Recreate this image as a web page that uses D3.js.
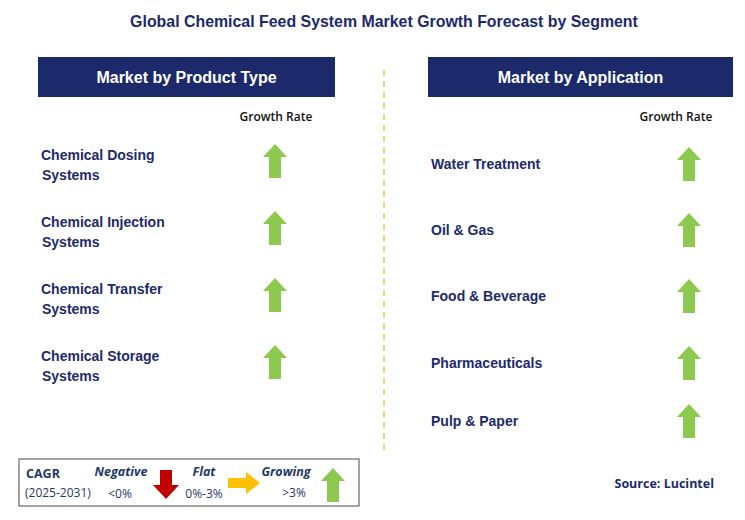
<!DOCTYPE html>
<html><head><meta charset="utf-8">
<script src="https://cdn.jsdelivr.net/npm/d3@7"></script>
<style>body{margin:0;background:#fff}</style></head>
<body><svg id="c" width="745" height="520"></svg>
<script>
const title = "Global Chemical Feed System Market Growth Forecast by Segment";
const productTypes = [["Chemical Dosing","Systems"],["Chemical Injection","Systems"],["Chemical Transfer","Systems"],["Chemical Storage","Systems"]];
const applications = ["Water Treatment","Oil & Gas","Food & Beverage","Pharmaceuticals","Pulp & Paper"];
const productTrend = ["up","up","up","up"];
const appTrend = ["up","up","up","up","up"];

const svg = d3.select("#c");
const navy = "#1c2a6b", green = "#8cc94e", font = "Arial, Liberation Sans, sans-serif";
svg.append("text").attr("x",384).attr("y",27).attr("text-anchor","middle").attr("font-family",font)
  .attr("font-size",15.9).attr("font-weight","bold").attr("fill","#1c2a6b").text(title);

function upArrow(g, cx, cy){
  const p = [[0,-17],[12,-4],[6,-4],[6,17],[-6,17],[-6,-4],[-12,-4]];
  g.append("polygon").attr("points",p.map(d=>[cx+d[0],cy+d[1]].join(",")).join(" ")).attr("fill",green);
}
function header(x,w,label){
  svg.append("rect").attr("x",x).attr("y",57).attr("width",w).attr("height",40).attr("fill",navy);
  svg.append("text").attr("x",x+w/2).attr("y",83).attr("text-anchor","middle").attr("fill","#fff")
    .attr("font-family",font).attr("font-size",16).attr("font-weight","bold").text(label);
}
header(38,297,"Market by Product Type");
header(428,305,"Market by Application");
[[276,"Growth Rate"],[676,"Growth Rate"]].forEach(([x,t])=>svg.append("text").attr("x",x).attr("y",121)
  .attr("text-anchor","middle").attr("font-family","Open Sans, sans-serif").attr("font-size",12).attr("font-weight","600").attr("fill","#111").text(t));
svg.append("line").attr("x1",384).attr("x2",384).attr("y1",70).attr("y2",450).attr("stroke","#f4c542")
  .attr("stroke-width",1.5).attr("stroke-dasharray","6,5");

const yL = d3.scalePoint().domain(d3.range(productTypes.length)).range([161,362]);
productTypes.forEach((lines,i)=>{
  const t = svg.append("text").attr("x",41).attr("font-family",font).attr("font-size",14).attr("font-weight","bold").attr("fill",navy);
  lines.forEach((l,j)=>t.append("tspan").attr("x",j?42:41).attr("y",yL(i)-1+j*20).text(l));
  if(productTrend[i]==="up") upArrow(svg,275,yL(i));
});
const yRpos = [164,230,296,363,421];
applications.forEach((a,i)=>{
  svg.append("text").attr("x",431).attr("y",yRpos[i]+5).attr("font-family",font).attr("font-size",14)
    .attr("font-weight","bold").attr("fill",navy).text(a);
  if(appTrend[i]==="up") upArrow(svg,689,yRpos[i]);
});

// legend
svg.append("rect").attr("x",19).attr("y",459).attr("width",340).attr("height",47).attr("fill","#fff").attr("stroke","#666").attr("stroke-width",1.2);
const lt=(x,y,t,o={})=>svg.append("text").attr("x",x).attr("y",y).attr("font-family","Open Sans, sans-serif")
  .attr("font-size",o.s||12).attr("font-weight",o.w||"normal").attr("font-style",o.i?"italic":"normal").attr("fill","#1f3864").attr("text-anchor",o.a||"start").text(t);
lt(26,478,"CAGR",{w:"bold",s:12.5});
lt(25,497,"(2025-2031)",{s:12});
lt(121,476,"Negative",{w:"bold",i:1,a:"middle",s:12.5});
lt(120,498,"<0%",{a:"middle"});
lt(204,476,"Flat",{w:"bold",i:1,a:"middle",s:12.5});
lt(204,498,"0%-3%",{a:"middle"});
lt(286,476,"Growing",{w:"bold",i:1,a:"middle",s:12.5});
lt(294,497,">3%",{a:"middle"});
svg.append("polygon").attr("points","160,470 172,470 172,485 179,485 166,499 153,485 160,485").attr("fill","#c00000");
svg.append("polygon").attr("points","228,478 246,478 246,472 260,483 246,494 246,488 228,488").attr("fill","#ffc000");
upArrow(svg,333,485);
svg.append("text").attr("x",714).attr("y",488).attr("text-anchor","end").attr("font-family","Open Sans, sans-serif").attr("font-size",12.5).attr("font-weight","bold").attr("fill",navy).text("Source: Lucintel");
</script></body></html>
